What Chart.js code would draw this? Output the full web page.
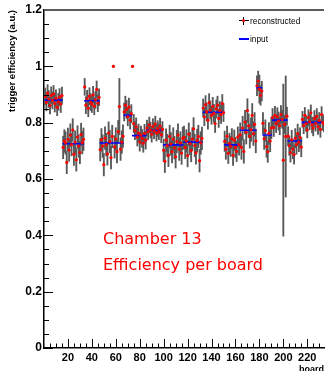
<!DOCTYPE html>
<html>
<head>
<meta charset="utf-8">
<script src="https://cdn.jsdelivr.net/npm/chart.js@4.4.1/dist/chart.umd.min.js"></script>
<style>
  html, body { margin: 0; padding: 0; background: #fff; }
  #wrap { position: relative; width: 328px; height: 371px; overflow: hidden; }
  canvas { position: absolute; left: 0; top: 0; }
  .note { position: absolute; left: 103px; top: 226px; color: #ff0000; font: 16px 'DejaVu Sans', sans-serif; line-height: 26px; white-space: nowrap; }
  .leg { position: absolute; left: 250px; font: 8.3px 'Liberation Sans', Arial, sans-serif; line-height: 10px; color: #000; white-space: nowrap; }
  .mk { position: absolute; }
</style>
</head>
<body>
<div id="wrap">
  <canvas id="chart" width="328" height="371"></canvas>
  <div class="note">Chamber 13<br>Efficiency per board</div>
  <div class="mk" style="left:239px;top:20px;width:10px;height:1px;background:#000"></div>
  <div class="mk" style="left:243px;top:17px;width:1px;height:8px;background:#000"></div>
  <div class="mk" style="left:242px;top:19px;width:3px;height:3px;border-radius:50%;background:#f00"></div>
  <div class="leg" style="top:16px">reconstructed</div>
  <div class="mk" style="left:239px;top:38px;width:10px;height:1.5px;background:#00f"></div>
  <div class="leg" style="top:34px">input</div>
</div>
<script>
// board groups (one blue "input" level per group)
const groupStart = [1, 16, 34, 47, 67, 74, 86, 100, 117, 133, 151, 164, 178, 183, 191, 204, 216];
const groupEnd   = [15, 33, 46, 66, 73, 85, 99, 116, 132, 150, 163, 177, 182, 190, 203, 215, 234];
const inputLevel = [0.880, 0.725, 0.878, 0.728, 0.826, 0.754, 0.773, 0.721, 0.731, 0.837, 0.721, 0.773, 0.924, 0.756, 0.809, 0.735, 0.801];
const groupError = [0.030, 0.040, 0.030, 0.040, 0.032, 0.032, 0.028, 0.040, 0.040, 0.032, 0.036, 0.042, 0.035, 0.038, 0.032, 0.034, 0.028];

// reconstructed efficiency, boards 1..234
const reconstructed = [
  0.893, 0.872, 0.905, 0.884, 0.861, 0.897, 0.879, 0.902, 0.868, 0.887, 0.855, 0.874, 0.891, 0.866, 0.896,
  0.712, 0.735, 0.728, 0.659, 0.741, 0.703, 0.756, 0.722, 0.774, 0.688, 0.731, 0.668, 0.749, 0.717, 0.694, 0.758, 0.729, 0.741,
  0.927, 0.862, 0.885, 0.851, 0.894, 0.873, 0.866, 0.899, 0.858, 0.881, 0.918, 0.869, 0.890,
  0.704, 0.739, 0.717, 0.651, 0.745, 0.722, 0.689, 0.763, 0.733, 0.676, 0.751, 1.000, 0.714, 0.742, 0.697, 0.768, 0.857, 0.706, 0.731, 0.752,
  0.838, 0.862, 0.847, 0.821, 0.855, 0.809, 0.832,
  1.000, 0.797, 0.772, 0.785, 0.749, 0.763, 0.731, 0.756, 0.744, 0.727, 0.762, 0.738,
  0.781, 0.768, 0.792, 0.774, 0.759, 0.786, 0.771, 0.795, 0.763, 0.779, 0.768, 0.788, 0.757, 0.776,
  0.702, 0.663, 0.738, 0.719, 0.684, 0.751, 0.725, 0.697, 0.742, 0.711, 0.679, 0.733, 0.756, 0.706, 0.728, 0.692, 0.744,
  0.748, 0.712, 0.735, 0.683, 0.759, 0.726, 0.701, 0.742, 0.778, 0.719, 0.693, 0.737, 0.751, 0.665, 0.728, 0.744,
  0.852, 0.821, 0.864, 0.838, 0.809, 0.871, 0.845, 0.826, 0.858, 0.833, 0.797, 0.849, 0.862, 0.815, 0.843, 0.829, 0.868, 0.836,
  0.734, 0.706, 0.752, 0.691, 0.727, 0.716, 0.743, 0.684, 0.738, 0.712, 0.698, 0.749, 0.721,
  0.757, 0.712, 0.781, 0.698, 0.802, 0.766, 0.843, 0.789, 0.752, 0.775, 0.826, 0.761, 0.794, 0.735,
  0.931, 0.948, 0.919, 0.897, 0.912,
  0.798, 0.743, 0.772, 0.715, 0.697, 0.762, 0.735, 0.781,
  0.818, 0.783, 0.826, 0.797, 0.821, 0.806, 0.789, 0.829, 0.812, 0.667, 0.794, 0.751, 0.823,
  0.752, 0.718, 0.694, 0.739, 0.706, 0.687, 0.745, 0.722, 0.761, 0.731, 0.748, 0.713,
  0.812, 0.789, 0.826, 0.797, 0.774, 0.818, 0.803, 0.835, 0.792, 0.781, 0.815, 0.798, 0.822, 0.786, 0.808, 0.776, 0.829, 0.801, 0.795
];
// boards with an error clearly different from their group
const errorOverride = {58: 0.004, 63: 0.10, 74: 0.004, 180: 0.05, 200: 0.27, 202: 0.215};

const yTicks = [0, 0.2, 0.4, 0.6, 0.8, 1, 1.2];

const points = [], errBars = [], inputLine = [];
groupStart.forEach((s, g) => {
  for (let b = s; b <= groupEnd[g]; b++) {
    const v = reconstructed[b - 1];
    const e = errorOverride[b] ?? groupError[g];
    points.push({x: b, y: v});
    errBars.push({x: b, y: [v - e, v + e]});
  }
  inputLine.push({x: s - 0.5, y: inputLevel[g]}, {x: groupEnd[g] + 0.5, y: inputLevel[g]}, {x: groupEnd[g] + 0.5, y: null});
});

// ROOT style: ticks drawn inwards, grey top frame
const rootTicks = {
  id: 'rootTicks',
  afterDraw(chart) {
    const {ctx, chartArea: a, scales: {x, y}} = chart;
    ctx.save();
    ctx.strokeStyle = '#000';
    ctx.lineWidth = 1;
    ctx.beginPath();
    for (let i = 0; i <= 24; i++) {
      const py = Math.round(y.getPixelForValue(i * 0.05)) + 0.5;
      const len = i % 4 === 0 ? 9 : 5;
      ctx.moveTo(a.left, py); ctx.lineTo(a.left + len, py);
    }
    for (let b = 5; b <= 234; b += 5) {
      const px = Math.round(x.getPixelForValue(b)) + 0.5;
      const len = b % 20 === 0 ? 9 : 4.5;
      ctx.moveTo(px, a.bottom); ctx.lineTo(px, a.bottom - len);
    }
    ctx.stroke();
    ctx.strokeStyle = '#5a5a5a';
    ctx.lineWidth = 2;
    ctx.beginPath();
    ctx.moveTo(a.left, a.top); ctx.lineTo(a.right, a.top);
    ctx.stroke();
    ctx.restore();
  }
};

new Chart(document.getElementById('chart'), {
  data: {
    datasets: [{
      type: 'scatter',
      label: 'reconstructed',
      data: points,
      pointRadius: 1.6,
      pointBackgroundColor: '#ff0000',
      pointBorderWidth: 0,
      order: 0
    }, {
      type: 'line',
      label: 'input',
      data: inputLine,
      borderColor: '#0000ff',
      borderWidth: 1.6,
      pointRadius: 0,
      spanGaps: false,
      order: 1
    }, {
      type: 'bar',
      label: 'errors',
      data: errBars,
      backgroundColor: '#585858',
      barThickness: 1.2,
      order: 2
    }]
  },
  options: {
    responsive: false,
    animation: false,
    layout: {padding: {top: 10, right: -4, left: 0, bottom: -4}},
    plugins: {legend: {display: false}, tooltip: {enabled: false}},
    scales: {
      x: {
        type: 'linear',
        min: 0,
        max: 234,
        offset: false,
        grid: {drawOnChartArea: false, drawTicks: false},
        border: {color: '#000', width: 1.5},
        ticks: {
          stepSize: 20,
          includeBounds: false,
          autoSkip: false,
          maxRotation: 0,
          padding: 3,
          color: '#000',
          font: {family: "'Liberation Sans', Arial, sans-serif", size: 11, weight: 'bold'},
          callback: v => v === 0 ? '' : v
        },
        title: {display: true, text: 'board', align: 'end', padding: 0, color: '#000',
                font: {family: "'Liberation Sans', Arial, sans-serif", size: 9, weight: 'bold'}},
        afterFit: s => { s.height = 27; }
      },
      y: {
        min: 0,
        max: 1.2,
        grid: {drawOnChartArea: false, drawTicks: false},
        border: {color: '#000', width: 1.5},
        afterBuildTicks: s => { s.ticks = yTicks.map(v => ({value: v})); },
        ticks: {
          padding: 2,
          color: '#000',
          font: {family: "'Liberation Sans', Arial, sans-serif", size: 12, weight: 'bold'},
          callback: v => String(+v.toFixed(1))
        },
        title: {display: true, text: 'trigger efficiency (a.u.)', align: 'end', padding: 7, color: '#000',
                font: {family: "'Liberation Sans', Arial, sans-serif", size: 9.5, weight: 'bold'}},
        afterFit: s => { s.width = 44; }
      }
    }
  },
  plugins: [rootTicks]
});
</script>
</body>
</html>
